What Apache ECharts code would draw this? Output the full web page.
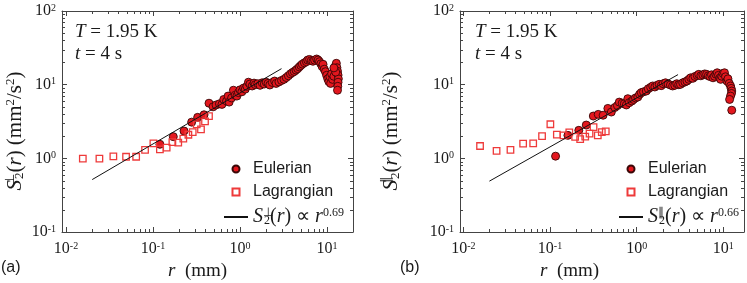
<!DOCTYPE html>
<html><head><meta charset="utf-8">
<script src="https://cdn.jsdelivr.net/npm/echarts@6/dist/echarts.min.js"></script>
<style>html,body{margin:0;padding:0;background:#fff}#c{width:747px;height:283px}</style>
</head><body><div id="c"></div>
<script>
// ---------- data ----------
const eulerA = [[0.12,1.55],[0.171,1.97],[0.227,2.35],[0.278,3.1],[0.326,3.6],[0.386,3.9],[0.44,5.6],[0.49,5.0],[0.53,5.3],[0.58,5.5],[0.62,5.4],[0.65,6.3],[0.70,6.0],[0.73,7.0],[0.75,5.8],[0.80,6.6],[0.84,8.4],[0.88,7.2],[0.92,7.0],[0.96,7.8],[1.0,8.5],[1.05,8.0],[1.1,9.0],[1.15,8.7],[1.2,9.5],[1.25,10.8],[1.3,10.2],[1.38,9.6],[1.45,10.5],[1.5,10.0],[1.6,10.3],[1.7,9.8],[1.8,10.6],[1.9,10.2],[2.0,10.8],[2.1,10.4],[2.2,9.9],[2.35,10.7],[2.5,11.2],[2.6,10.4],[2.8,10.9],[3.0,11.4],[3.2,11.8],[3.4,12.5],[3.6,13.2],[3.8,14.0],[4.0,14.6],[4.2,15.1],[4.4,15.8],[4.6,16.5],[4.8,17.4],[5.0,18.2],[5.2,19.0],[5.5,19.8],[5.8,20.5],[6.0,21.6],[6.3,22.0],[6.6,21.2],[6.9,20.8],[7.2,21.5],[7.6,22.3],[7.9,21.6],[8.2,20.5],[8.5,19.2],[8.8,17.6],[9.0,18.9],[9.3,16.2],[9.6,15.0],[9.9,13.4],[10.2,12.0],[10.5,11.0],[10.8,12.8],[11.0,10.4],[11.3,14.0],[11.6,11.8],[12.0,13.0],[12.3,16.0],[12.5,17.8],[12.8,19.5],[13.0,17.0],[13.2,15.2],[13.4,13.5],[13.5,12.0],[13.4,10.8],[13.3,9.5],[13.2,8.4],[12.6,14.8],[12.0,16.9]];
const lagrA = [[0.0156,0.99],[0.0242,0.99],[0.035,1.06],[0.049,1.05],[0.064,1.05],[0.081,1.30],[0.101,1.60],[0.12,1.32],[0.1435,1.40],[0.167,1.66],[0.195,1.63],[0.223,1.85],[0.255,2.09],[0.286,2.27],[0.318,2.89],[0.356,2.47],[0.396,3.18],[0.44,3.75]];
const fitA = [[0.02,0.515],[3.0,16.5]];

const eulerB = [[0.116,1.07],[0.161,2.05],[0.215,2.4],[0.262,2.83],[0.316,3.75],[0.36,3.95],[0.41,3.85],[0.465,4.76],[0.51,4.25],[0.56,4.9],[0.60,5.2],[0.63,5.8],[0.68,5.6],[0.72,5.5],[0.76,5.3],[0.79,6.45],[0.82,5.7],[0.88,6.0],[0.92,6.3],[0.97,6.6],[1.03,6.8],[1.08,7.4],[1.13,7.8],[1.2,8.0],[1.29,8.2],[1.36,8.8],[1.45,9.2],[1.53,9.6],[1.62,9.3],[1.72,9.8],[1.82,10.1],[1.92,9.7],[2.02,10.3],[2.15,10.6],[2.3,10.2],[2.45,9.9],[2.6,9.6],[2.75,9.8],[2.9,10.3],[3.05,10.0],[3.2,10.1],[3.4,10.6],[3.6,10.9],[3.8,11.2],[4.0,11.8],[4.2,12.4],[4.45,12.2],[4.7,12.9],[5.0,13.3],[5.2,13.8],[5.5,13.2],[5.8,13.6],[6.1,14.0],[6.4,13.8],[6.7,13.2],[7.0,12.9],[7.3,13.6],[7.6,12.4],[7.9,13.0],[8.2,13.9],[8.5,14.5],[8.8,13.4],[9.1,12.3],[9.3,11.8],[9.6,13.0],[9.9,14.2],[10.3,14.5],[10.6,12.8],[11.0,11.2],[11.3,12.0],[11.7,10.4],[12.1,9.6],[12.3,8.9],[12.5,8.2],[12.4,7.6],[12.1,7.0],[11.8,6.3],[12.5,4.5]];
const lagrB = [[0.0156,1.47],[0.0242,1.26],[0.035,1.30],[0.049,1.58],[0.064,1.60],[0.081,2.0],[0.101,2.9],[0.12,2.1],[0.1435,2.05],[0.167,2.25],[0.195,1.95],[0.223,1.82],[0.255,1.97],[0.286,2.16],[0.318,2.66],[0.356,2.05],[0.396,2.27],[0.44,2.32]];
const fitB = [[0.02,0.49],[3.0,13.7]];

const xMinorTicks = [0.02,0.03,0.04,0.05,0.06,0.07,0.08,0.09,0.2,0.3,0.4,0.5,0.6,0.7,0.8,0.9,2,3,4,5,6,7,8,9];
const yMinorTicks = [0.2,0.3,0.4,0.5,0.6,0.7,0.8,0.9,2,3,4,5,6,7,8,9,20,30,40,50,60,70,80,90];
const yRange = [0.1, 100];
const xRangeA = [0.00899, 19.9];
const xRangeB = [0.00916, 17.3];
const fitLabelA = '0.69';
const fitLabelB = '0.66';

// ---------- chart ----------
const serif = 'Liberation Serif';
const sans = 'Liberation Sans';
const axisCol = '#444';
const txtCol = '#1a1a1a';

function powLabel(v) {
  const e = Math.log10(v), n = Math.round(e);
  if (Math.abs(e - n) > 1e-6) return '';
  return '{b|10}{s|' + n + '}';
}
const labelRich = {
  b: {fontFamily: serif, fontSize: 16, color: txtCol, lineHeight: 16},
  s: {fontFamily: serif, fontSize: 10, color: txtCol, lineHeight: 10, verticalAlign: 'top'}
};
function xAxisCfg(gi, r, main) {
  return {type: 'log', logBase: 10, gridIndex: gi, min: r[0], max: r[1], position: main ? 'bottom' : 'top',
    axisLine: {show: true, onZero: false, lineStyle: {color: axisCol, width: 1}},
    axisTick: {show: true, inside: true, length: 5, lineStyle: {color: axisCol}},
    axisLabel: {show: main, formatter: powLabel, margin: 9, rich: labelRich},
    splitLine: {show: false}};
}
function yAxisCfg(gi, main) {
  return {type: 'log', logBase: 10, gridIndex: gi, min: yRange[0], max: yRange[1], position: main ? 'left' : 'right',
    axisLine: {show: true, onZero: false, lineStyle: {color: axisCol, width: 1}},
    axisTick: {show: true, inside: true, length: 5, lineStyle: {color: axisCol}},
    axisLabel: {show: main, formatter: powLabel, margin: 6, rich: labelRich},
    splitLine: {show: false}};
}
function minorTicks(xi, yi, xr) {
  const data = xMinorTicks.map(v => [v, yRange[0], 0]).concat(yMinorTicks.map(v => [xr[0], v, 1]));
  return {type: 'custom', xAxisIndex: xi, yAxisIndex: yi, silent: true, clip: false, z: 6, data,
    renderItem(p, api) {
      const st = {stroke: axisCol, lineWidth: 1};
      const kind = api.value(2);
      const v = api.value(kind === 0 ? 0 : 1);
      if (kind === 0) {
        const b = api.coord([v, yRange[0]]), t = api.coord([v, yRange[1]]);
        const x = Math.round(b[0]) + 0.5;
        return {type: 'group', children: [
          {type: 'line', shape: {x1: x, y1: b[1], x2: x, y2: b[1] - 3}, style: st},
          {type: 'line', shape: {x1: x, y1: t[1], x2: x, y2: t[1] + 3}, style: st}]};
      } else {
        const l = api.coord([xr[0], v]), r = api.coord([xr[1], v]);
        const y = Math.round(l[1]) + 0.5;
        return {type: 'group', children: [
          {type: 'line', shape: {x1: l[0], y1: y, x2: l[0] + 3, y2: y}, style: st},
          {type: 'line', shape: {x1: r[0], y1: y, x2: r[0] - 3, y2: y}, style: st}]};
      }
    }};
}
function scatterE(name, xi, yi, data) {
  return {name, type: 'scatter', xAxisIndex: xi, yAxisIndex: yi, data, symbol: 'circle', symbolSize: 8,
    itemStyle: {color: '#e3171e', borderColor: '#3a0707', borderWidth: 0.9, opacity: 1}, z: 2};
}
function scatterL(name, xi, yi, data) {
  return {name, type: 'scatter', xAxisIndex: xi, yAxisIndex: yi, data, symbol: 'rect', symbolSize: 6.5,
    symbolKeepAspect: true,
    itemStyle: {color: 'rgba(255,255,255,0)', borderColor: '#ee3a3a', borderWidth: 1.3, opacity: 1}, z: 3};
}
function fitLine(name, xi, yi, data) {
  return {name, type: 'line', xAxisIndex: xi, yAxisIndex: yi, data, symbol: 'none', showSymbol: false,
    itemStyle: {color: 'rgba(0,0,0,0)', borderWidth: 0},
    lineStyle: {color: '#111', width: 1}, z: 4};
}
const legRich = {
  i: {fontFamily: serif, fontStyle: 'italic', fontSize: 20, color: txtCol, lineHeight: 20},
  r: {fontFamily: serif, fontSize: 20, color: txtCol, lineHeight: 20},
  sp: {fontFamily: serif, fontSize: 12, color: txtCol, lineHeight: 11, verticalAlign: 'top', width: 1, align: 'left'},
  sb: {fontFamily: serif, fontSize: 12, color: txtCol, lineHeight: 11, verticalAlign: 'bottom'},
  ex: {fontFamily: serif, fontSize: 12, color: txtCol, lineHeight: 11, verticalAlign: 'top'}
};
const yRich = {
  i: {fontFamily: serif, fontStyle: 'italic', fontSize: 21, color: txtCol, lineHeight: 22},
  r: {fontFamily: serif, fontSize: 21, color: txtCol, lineHeight: 22},
  sp: {fontFamily: serif, fontSize: 13, color: txtCol, lineHeight: 12, verticalAlign: 'top', width: 1, align: 'left'},
  sb: {fontFamily: serif, fontSize: 13, color: txtCol, lineHeight: 12, verticalAlign: 'bottom'},
  ex: {fontFamily: serif, fontSize: 13, color: txtCol, lineHeight: 12, verticalAlign: 'top'}
};
function legendCfg(left, fitName, sym, exp) {
  return {orient: 'vertical', left, top: 156, itemWidth: 24, itemHeight: 7, itemGap: 7, selectedMode: false,
    symbolKeepAspect: true,
    textStyle: {fontFamily: sans, fontSize: 16, color: txtCol, rich: legRich},
    data: [{name: 'Eulerian', icon: 'circle'},
           {name: 'Lagrangian', icon: 'path://M0,0H10V10H0Z'},
           {name: fitName}],
    formatter: function (n) {
      if (n === fitName) return '{i|S}{sp|' + sym + '}{sb|2}{r|(}{i|r}{r|) ∝ }{i|r}{ex|' + exp + '}';
      return n;
    }};
}
function yName(x, sym) {
  return {type: 'text', x, y: 131, rotation: Math.PI / 2,
    style: {text: '{i|S}{sp|' + sym + '}{sb|2}{r|(}{i|r}{r|) (mm}{ex|2}{r|/s}{ex|2}{r|)}', rich: yRich,
      align: 'center', verticalAlign: 'middle', fill: txtCol}};
}
const annRich = {
  i: {fontFamily: serif, fontStyle: 'italic', fontSize: 19, color: txtCol},
  r: {fontFamily: serif, fontSize: 19, color: txtCol}
};
function ann(x, y, text) {
  return {type: 'text', x, y, style: {text, rich: annRich, verticalAlign: 'middle', align: 'left', fill: txtCol}};
}

const option = {
  animation: false,
  backgroundColor: '#fff',
  grid: [
    {left: 62, top: 11, width: 291, height: 221, containLabel: false},
    {left: 460, top: 11, width: 285, height: 221, containLabel: false}
  ],
  xAxis: [xAxisCfg(0, xRangeA, true), xAxisCfg(0, xRangeA, false), xAxisCfg(1, xRangeB, true), xAxisCfg(1, xRangeB, false)],
  yAxis: [yAxisCfg(0, true), yAxisCfg(0, false), yAxisCfg(1, true), yAxisCfg(1, false)],
  legend: [legendCfg(218, 'fitA', '⊥', fitLabelA), legendCfg(613, 'fitB', '∥', fitLabelB)],
  series: [
    scatterE('Eulerian', 0, 0, eulerA), scatterL('Lagrangian', 0, 0, lagrA), fitLine('fitA', 0, 0, fitA),
    scatterE('Eulerian', 2, 2, eulerB), scatterL('Lagrangian', 2, 2, lagrB), fitLine('fitB', 2, 2, fitB),
    minorTicks(0, 0, xRangeA), minorTicks(2, 2, xRangeB)
  ],
  graphic: [
    ann(75, 32, '{i|T}{r| = 1.95 K}'), ann(75, 54, '{i|t}{r| = 4 s}'),
    ann(475, 32, '{i|T}{r| = 1.95 K}'), ann(475, 54, '{i|t}{r| = 4 s}'),
    {type: 'text', x: 168, y: 271, style: {text: '{i|r}{r|  (mm)}', rich: annRich, verticalAlign: 'middle', fill: txtCol}},
    {type: 'text', x: 540, y: 271, style: {text: '{i|r}{r|  (mm)}', rich: annRich, verticalAlign: 'middle', fill: txtCol}},
    {type: 'text', x: 1, y: 268, style: {text: '(a)', font: '16px "Liberation Sans"', verticalAlign: 'middle', fill: txtCol}},
    {type: 'text', x: 400, y: 268, style: {text: '(b)', font: '16px "Liberation Sans"', verticalAlign: 'middle', fill: txtCol}},
    yName(15, '⊥'), yName(391, '∥')
  ]
};
const chart = echarts.init(document.getElementById('c'));
chart.setOption(option);
</script></body></html>
